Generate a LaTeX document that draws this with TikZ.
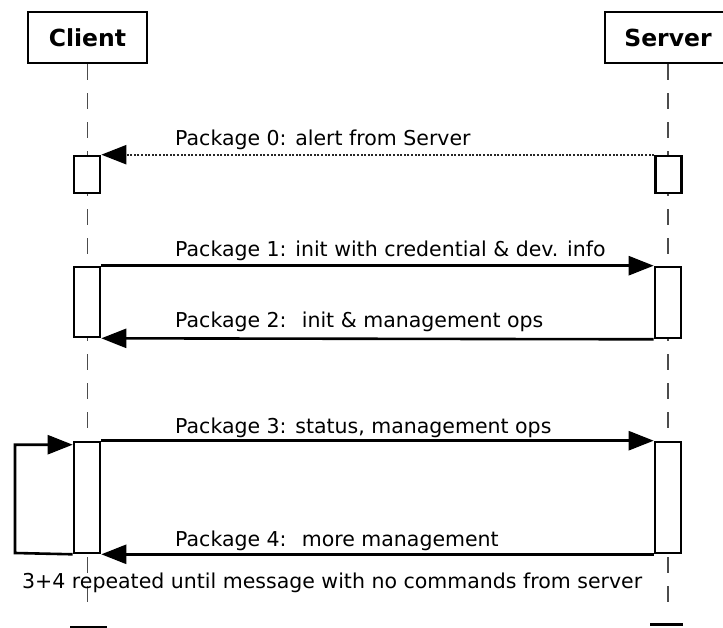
\documentclass[tikz,border=0pt]{standalone}
\usepackage{fontspec}
\setmainfont{DejaVu Sans}
\usetikzlibrary{arrows.meta}

\tikzset{
  actor/.style={draw, line width=2.6pt, fill=white, inner sep=0pt,
    minimum height=51pt, font=\fontsize{23.5}{28}\selectfont\bfseries},
  actbox/.style={draw, line width=2.6pt, fill=white, inner sep=0pt,
    minimum width=26pt},
  lifeline/.style={line width=1.6pt, black!70, dash pattern=on 16pt off 13pt},
  msg/.style={line width=2.6pt, -{Triangle[length=25pt,width=19pt]}},
  asyncmsg/.style={line width=2.2pt, black!85, dash pattern=on 2pt off 1.6pt,
    -{Triangle[length=25pt,width=19pt,color=black]}},
  lbl/.style={anchor=base west, inner sep=0pt,
    font=\fontsize{20.5}{25}\selectfont},
  footer/.style={line width=3pt}
}

\begin{document}
\begin{tikzpicture}[x=1pt,y=1pt]
\useasboundingbox (0,0) rectangle (723,-628);
\clip (0,0) rectangle (723,-628);
\fill[white] (0,0) rectangle (723,-628);

% participants
\node[actor, minimum width=119pt] (client) at (87.5,-37.5) {Client};
\node[actor, minimum width=126pt] (server) at (668,-37.5) {Server};

% lifeline ends
\coordinate (cend) at (87.5,-613);
\coordinate (send) at (668,-613);
\draw[lifeline] (client.south) -- (cend);
\draw[lifeline] (server.south) -- (send);

% activation bars
\node[actbox, minimum height=37pt] (ca0) at (87,-174.5) {};
\node[actbox, minimum height=37pt] (sa0) at (668.5,-174.5) {};
\node[actbox, minimum height=70pt] (ca1) at (87,-302) {};
\node[actbox, minimum height=71pt] (sa1) at (668,-302.5) {};
\node[actbox, minimum height=111pt] (ca3) at (87,-497.5) {};
\node[actbox, minimum height=111pt] (sa3) at (668,-497.5) {};

% messages
\draw[asyncmsg] (sa0.north west) -- (ca0.north east);
\draw[msg] (ca1.north east) -- (sa1.north west);
\draw[msg] (sa1.south west) -- (ca1.south east);
\draw[msg] (ca3.north east) -- (sa3.north west);
\draw[msg] (sa3.south west) -- (ca3.south east);

% repetition loop on the client side
\coordinate (loopL) at (15,-553);
\draw[msg] (ca3.south west) -- (loopL) |- ([yshift=-4pt]ca3.north west);

% message labels
\node[lbl] (l0) at (175,-146) {Package 0: alert from Server};
\node[lbl] (l1) at (175,-257) {Package 1: init with credential \& dev. info};
\node[lbl] (l2) at (175,-328) {Package 2: \ init \& management ops};
\node[lbl] (l3) at (175,-433) {Package 3: status, management ops};
\node[lbl] (l4) at (175,-546) {Package 4: \ more management};
\node[lbl] (note) at (22,-588) {3+4 repeated until message with no commands from server};

% footer marks
\draw[footer] (70,-627) -- (107,-627);
\draw[footer] (650,-624.5) -- (683,-624.5);
\end{tikzpicture}
\end{document}
